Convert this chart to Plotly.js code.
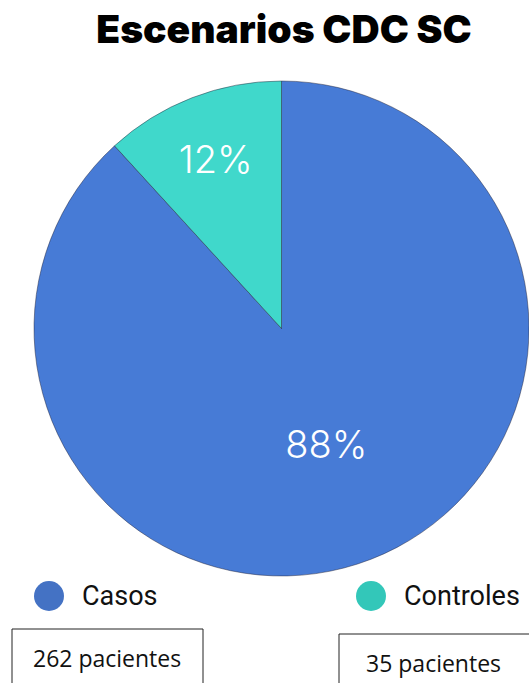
<!DOCTYPE html>
<html>
<head>
<meta charset="utf-8">
<script src="https://cdn.plot.ly/plotly-3.0.1.min.js"></script>
<style>html,body{margin:0;padding:0;background:#fff;}#chart{width:529px;height:683px;}</style>
</head>
<body>
<div id="chart"></div>
<script>
const categories = ['Casos', 'Controles'];
const patients = [262, 35];
const sliceColors = ['#477bd6', '#40d8cb'];
const legendColors = ['#4472c4', '#33c7b9'];
const countSuffix = ' pacientes';

const W = 529, H = 683;
const px = x => x / W;
const py = y => 1 - y / H;

const trace = {
  type: 'pie',
  labels: categories,
  values: patients,
  sort: false,
  direction: 'clockwise',
  rotation: 0,
  marker: {colors: sliceColors, line: {color: 'rgba(30,30,50,0.45)', width: 1}},
  texttemplate: '%{percent:.0%}',
  textposition: 'inside',
  insidetextorientation: 'horizontal',
  textfont: {family: 'Inter', size: 38, color: '#ffffff', weight: 300},
  hoverinfo: 'label+value+percent',
  showlegend: false,
  domain: {x: [px(34), 1], y: [py(577), py(80)]}
};

const annotations = [];
const shapes = [];
const legendDotX = [49, 371];
const legendTextX = [80, 402];
const boxes = [
  {x0: 12, x1: 203, y0: 629, cx: 107, cy: 658},
  {x0: 339, x1: 535, y0: 634, cx: 433, cy: 663}
];
categories.forEach((c, i) => {
  shapes.push({type: 'circle', xref: 'paper', yref: 'paper', xsizemode: 'pixel', ysizemode: 'pixel',
    xanchor: px(legendDotX[i]), yanchor: py(596), x0: -15, x1: 15, y0: -15, y1: 15,
    fillcolor: legendColors[i], line: {width: 0}});
  annotations.push({xref: 'paper', yref: 'paper', x: px(legendTextX[i]), y: py(596), text: c,
    showarrow: false, xanchor: 'left', yanchor: 'middle', font: {family: 'Roboto', size: 27, color: '#111'}});
  const b = boxes[i];
  shapes.push({type: 'rect', xref: 'paper', yref: 'paper', x0: px(b.x0), x1: px(b.x1), y0: py(b.y0), y1: py(700),
    line: {color: '#222', width: 1}, fillcolor: 'rgba(0,0,0,0)'});
  annotations.push({xref: 'paper', yref: 'paper', x: px(b.cx), y: py(b.cy), text: patients[i] + countSuffix,
    showarrow: false, xanchor: 'center', yanchor: 'middle', font: {family: 'Open Sans', size: 23, color: '#111'}});
});

const layout = {
  width: W, height: H,
  margin: {l: 0, r: 0, t: 0, b: 0},
  paper_bgcolor: '#ffffff',
  title: {text: 'Escenarios CDC SC', x: px(284), xanchor: 'center', y: 1 - 29 / H, yanchor: 'middle', yref: 'container',
    font: {family: 'Inter', size: 39, weight: 900, color: '#000'}},
  annotations: annotations,
  shapes: shapes
};

Plotly.newPlot('chart', [trace], layout, {displayModeBar: false, staticPlot: true});
</script>
</body>
</html>
